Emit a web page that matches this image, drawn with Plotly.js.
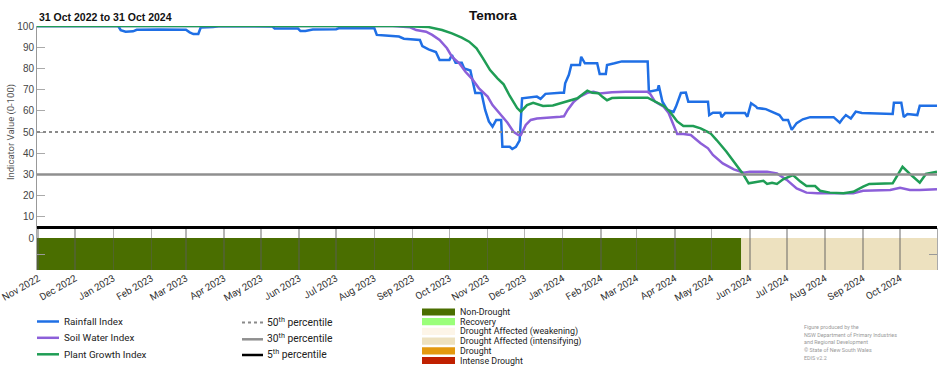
<!DOCTYPE html>
<html><head><meta charset="utf-8">
<script src="https://cdn.plot.ly/plotly-3.0.1.min.js"></script>
<style>html,body{margin:0;padding:0;background:#fff;}#chart{width:952px;height:370px;}</style>
</head><body><div id="chart"></div>
<script>
// ---------- data ----------
const rainDates = ['2022-10-31','2023-01-05','2023-01-07','2023-01-11','2023-01-17','2023-01-20','2023-02-07','2023-03-01','2023-03-04','2023-03-07','2023-03-11','2023-03-13','2023-03-23','2023-03-29','2023-05-10','2023-05-12','2023-05-31','2023-06-02','2023-06-06','2023-06-12','2023-07-01','2023-07-03','2023-08-01','2023-08-03','2023-08-10','2023-08-21','2023-08-25','2023-09-07','2023-09-09','2023-09-14','2023-09-20','2023-09-23','2023-10-01','2023-10-03','2023-10-06','2023-10-11','2023-10-13','2023-10-18','2023-10-22','2023-10-27','2023-10-30','2023-11-02','2023-11-05','2023-11-08','2023-11-12','2023-11-13','2023-11-19','2023-11-21','2023-11-24','2023-11-26','2023-11-27','2023-11-29','2023-12-11','2023-12-14','2023-12-18','2023-12-30','2024-01-02','2024-01-03','2024-01-06','2024-01-08','2024-01-15','2024-01-16','2024-01-19','2024-01-29','2024-01-31','2024-02-05','2024-02-06','2024-02-12','2024-02-18','2024-03-10','2024-03-11','2024-03-18','2024-03-19','2024-03-22','2024-03-26','2024-03-31','2024-04-02','2024-04-06','2024-04-10','2024-04-12','2024-04-28','2024-04-29','2024-05-02','2024-05-08','2024-05-09','2024-05-12','2024-05-28','2024-05-30','2024-06-02','2024-06-06','2024-06-07','2024-06-14','2024-06-19','2024-06-25','2024-06-28','2024-07-02','2024-07-05','2024-07-09','2024-07-14','2024-07-20','2024-08-08','2024-08-11','2024-08-13','2024-08-15','2024-08-18','2024-08-22','2024-08-26','2024-08-31','2024-09-25','2024-09-26','2024-10-02','2024-10-04','2024-10-07','2024-10-15','2024-10-17','2024-10-31'];
const rainValues = [100,100,98,97.3,97.5,98.2,98.4,98.2,97,96.2,96.2,99.3,99.5,100,99.8,98.8,98.8,97.6,97.6,98.3,98.5,98.9,98.9,95.8,95.5,95,94,93.4,90.5,89,87.7,84,84,86.3,82.7,82.7,80,79,68.4,68.4,60.4,55,52.5,55.7,55.7,43,43,42,43,45.4,46,65.9,66.7,65.6,68,68.5,68.5,73,77,81.6,81.6,85.5,82.4,82.4,77.4,77.4,81.6,82.4,83.3,83.3,69,69.8,72,64.3,60.4,59.5,62,68.4,68.6,64.3,64.3,58,59.1,59.1,57,59,59,57.2,63.6,62,61.3,60.8,59.5,58,55.7,55.7,51,54.2,56,57,57,55.5,54.4,56,58,56.4,59.6,59,58.5,63.8,63.8,57,58.5,58,62.4,62.4];

const soilDates = ['2022-10-31','2023-08-16','2023-08-30','2023-09-04','2023-09-12','2023-09-17','2023-09-23','2023-09-29','2023-10-03','2023-10-09','2023-10-14','2023-10-19','2023-10-25','2023-11-01','2023-11-05','2023-11-11','2023-11-17','2023-11-22','2023-11-26','2023-11-28','2023-12-02','2023-12-06','2023-12-11','2023-12-30','2024-01-02','2024-01-05','2024-01-10','2024-01-15','2024-01-21','2024-01-26','2024-01-31','2024-02-10','2024-02-21','2024-03-10','2024-03-12','2024-03-16','2024-03-23','2024-03-27','2024-03-31','2024-04-03','2024-04-08','2024-04-14','2024-04-22','2024-04-28','2024-05-02','2024-05-10','2024-05-19','2024-05-27','2024-06-01','2024-06-15','2024-06-23','2024-07-01','2024-07-09','2024-07-17','2024-07-26','2024-08-24','2024-09-01','2024-09-23','2024-10-01','2024-10-09','2024-10-17','2024-10-31'];
const soilValues = [100,100,99.4,98.1,97.3,95.8,93.4,89.5,85.5,82.4,78.4,75.3,70.6,66.7,62.7,58.8,54.5,50.1,48.6,48.6,53.3,55.7,56.4,57.2,57.4,60.4,64.3,66.7,68.5,69,68.2,68.7,69,69,68,64.3,61.9,59,53.3,49,49,48.6,44.7,42.3,39.2,35.2,32.4,30.8,31.3,31.3,30.5,27.4,23.4,21.4,21.1,21.1,22.3,22.6,23.7,22.6,22.6,23];

const plantDates = ['2022-10-31','2023-08-20','2023-09-14','2023-09-25','2023-10-03','2023-10-11','2023-10-17','2023-10-23','2023-10-28','2023-11-03','2023-11-09','2023-11-14','2023-11-19','2023-11-25','2023-11-28','2023-12-03','2023-12-08','2023-12-16','2023-12-24','2023-12-30','2024-01-05','2024-01-13','2024-01-18','2024-01-21','2024-01-25','2024-01-30','2024-02-02','2024-02-06','2024-02-10','2024-02-16','2024-03-10','2024-03-14','2024-03-20','2024-03-23','2024-03-28','2024-04-03','2024-04-08','2024-04-16','2024-04-22','2024-04-30','2024-05-05','2024-05-13','2024-05-21','2024-05-27','2024-05-31','2024-06-07','2024-06-12','2024-06-15','2024-06-19','2024-06-23','2024-06-28','2024-07-06','2024-07-12','2024-07-17','2024-07-24','2024-07-28','2024-08-05','2024-08-16','2024-08-24','2024-09-01','2024-09-06','2024-09-25','2024-10-03','2024-10-10','2024-10-17','2024-10-22','2024-10-31'];
const plantValues = [100,100,99.5,98.1,96.5,94.5,92.6,89.5,85,79.2,75.3,72.5,67,61.3,59.6,62.7,63.8,62.3,62.5,63.5,64.8,65.9,68.2,69.5,68.5,68.3,66.7,65,66,66.2,66.2,65,63.5,62.3,59.6,55,52.8,52.8,51.7,49.4,46.2,40.7,34.4,29.7,25.8,26.6,27,25.5,26.1,25.5,27.7,29.7,26.6,24.5,24.5,22.3,21.4,21.1,21.8,24.2,25.5,25.8,33.6,29.7,26.1,30.2,31.3];

const seriesNames = ['Rainfall Index','Soil Water Index','Plant Growth Index'];
const percentileValues = [50, 30, 5];
const percentileLabels = ['50<sup>th</sup> percentile','30<sup>th</sup> percentile','5<sup>th</sup> percentile'];

const droughtStart = ['2022-10-31','2024-05-25'];
const droughtEnd   = ['2024-05-25','2024-10-31'];
const droughtCat   = ['Non-Drought','Drought Affected (intensifying)'];
const droughtCategories = ['Non-Drought','Recovery','Drought Affected (weakening)','Drought Affected (intensifying)','Drought','Intense Drought'];

const credits = ['Figure produced by the','NSW Department of Primary Industries','and Regional Development','© State of New South Wales','EDIS v2.2'];

// ---------- styles ----------
const lineColors = ['#1f6fe5','#8c5fd9','#1f9d55'];
const catColors = {'Non-Drought':'#4a6e00','Recovery':'#9bff7a','Drought Affected (weakening)':'#fdf5e8','Drought Affected (intensifying)':'#ede1bf','Drought':'#e3990f','Intense Drought':'#c02000'};
const pctStyles = [{color:'#8a8a8a',width:2,dash:'dot'},{color:'#8f8f8f',width:2.5,dash:'solid'},{color:'#000000',width:3,dash:'solid'}];

const L=37,R=937,T=26,B=270;
const px = x => (x-L)/(R-L);
const py = y => (B-y)/(B-T);

const traces = [];
droughtCat.forEach((c,i)=>{
  traces.push({type:'scatter',mode:'lines',xaxis:'x',yaxis:'y2',
    x:[droughtStart[i],droughtEnd[i],droughtEnd[i],droughtStart[i],droughtStart[i]],
    y:[-1,-1,0,0,-1],fill:'toself',fillcolor:catColors[c],line:{width:0},hoverinfo:'skip',showlegend:false});
});
[[rainDates,rainValues],[soilDates,soilValues],[plantDates,plantValues]].forEach((d,i)=>{
  traces.push({type:'scatter',mode:'lines',x:d[0],y:d[1],name:seriesNames[i],
    line:{color:lineColors[i],width:2.5,shape:'linear'},showlegend:false});
});

const shapes = [];
const annotations = [];
percentileValues.forEach((v,i)=>{
  shapes.push({type:'line',xref:'paper',yref:'y',x0:0,x1:1,y0:v,y1:v,line:pctStyles[i],layer:'above'});
});

const legFont = {family:'Roboto, Arial, sans-serif',size:9.8,color:'#222'};
const lineLegY = [321.5,337.8,354.3];
seriesNames.forEach((n,i)=>{
  shapes.push({type:'line',xref:'paper',yref:'paper',x0:px(37),x1:px(59),y0:py(lineLegY[i]),y1:py(lineLegY[i]),line:{color:lineColors[i],width:2.5}});
  annotations.push({xref:'paper',yref:'paper',x:px(62),y:py(lineLegY[i]),xanchor:'left',yanchor:'middle',text:n,showarrow:false,font:legFont});
});
const pctLegY = [322.5,339.3,355];
percentileLabels.forEach((n,i)=>{
  shapes.push({type:'line',xref:'paper',yref:'paper',x0:px(242),x1:px(263),y0:py(pctLegY[i]),y1:py(pctLegY[i]),line:Object.assign({},pctStyles[i],{width:i==0?2:2.5})});
  annotations.push({xref:'paper',yref:'paper',x:px(265),y:py(pctLegY[i]-1),xanchor:'left',yanchor:'middle',text:n,showarrow:false,font:{family:'Roboto, Arial, sans-serif',size:10.3,color:'#222'}});
});
const catLegY = [312,321.7,331.4,341.1,350.8,360.5];
droughtCategories.forEach((c,i)=>{
  shapes.push({type:'rect',xref:'paper',yref:'paper',x0:px(422),x1:px(455),y0:py(catLegY[i]-3.6),y1:py(catLegY[i]+3.6),fillcolor:catColors[c],line:{width:0}});
  annotations.push({xref:'paper',yref:'paper',x:px(458),y:py(catLegY[i]),xanchor:'left',yanchor:'middle',text:c,showarrow:false,font:{family:'Roboto, Arial, sans-serif',size:8.9,color:'#222'}});
});
const creditY = [327,334.5,342,350,358];
credits.forEach((t,i)=>{
  annotations.push({xref:'paper',yref:'paper',x:px(802),y:py(creditY[i]),xanchor:'left',yanchor:'middle',text:t,showarrow:false,font:{family:'Roboto, Arial, sans-serif',size:5.4,color:'#9a9a9a'}});
});
annotations.push({xref:'paper',yref:'paper',x:0,y:py(17),xanchor:'left',yanchor:'middle',text:'<b>31 Oct 2022 to 31 Oct 2024</b>',showarrow:false,font:{family:'Liberation Sans, Arial, sans-serif',size:10.5,color:'#111'}});

const layout = {
  width:952,height:370,
  margin:{l:L,r:952-R,t:T,b:370-B,pad:0},
  paper_bgcolor:'#fff',plot_bgcolor:'rgba(0,0,0,0)',
  showlegend:false,
  title:{text:'<b>Temora</b>',x:px(493),xref:'paper',xanchor:'center',y:1-15/370,yref:'container',yanchor:'middle',font:{family:'Liberation Sans, Arial, sans-serif',size:13.5,color:'#111'}},
  xaxis:{type:'date',range:['2022-10-31','2024-10-31'],anchor:'y2',dtick:'M1',tick0:'2022-11-01',tickformat:'%b %Y',
    tickangle:-30,ticks:'inside',ticklen:42,tickwidth:1.5,tickcolor:'rgba(90,90,90,0.45)',showgrid:false,zeroline:false,showline:false,
    ticklabeloverflow:'allow',
    tickfont:{family:'Roboto, Arial, sans-serif',size:9.8,color:'#333'}},
  yaxis:{domain:[py(238),1],range:[0,100],tickvals:[0,10,20,30,40,50,60,70,80,90,100],ticks:'inside',ticklen:8,tickcolor:'#aaa',tickwidth:1,
    showgrid:false,zeroline:false,showline:true,linecolor:'#999',linewidth:1,
    tickfont:{family:'Liberation Sans, Arial, sans-serif',size:10,color:'#444'},
    title:{text:'Indicator Value (0-100)',standoff:0,font:{family:'Roboto, Arial, sans-serif',size:9.5,color:'#555'}}},
  yaxis2:{domain:[0,py(228)],range:[-1,0.3125],anchor:'x',tickvals:[-0.5],ticktext:[''],ticks:'inside',ticklen:8,tickcolor:'#999',
    showgrid:false,zeroline:false,showline:true,mirror:'ticks',linecolor:'#aaa',linewidth:1,showticklabels:false},
  shapes:shapes,annotations:annotations
};
Plotly.newPlot('chart',traces,layout,{displayModeBar:false,staticPlot:true});
</script></body></html>
